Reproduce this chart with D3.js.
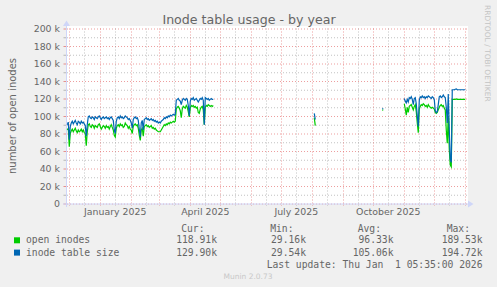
<!DOCTYPE html>
<html>
<head>
<meta charset="utf-8">
<script src="https://cdn.jsdelivr.net/npm/d3@7"></script>
<style>
body { margin: 0; background: #f0f0f0; }
svg { display: block; }
text { font-family: "DejaVu Sans", sans-serif; fill: #666; }
.mono { font-family: "DejaVu Sans Mono", monospace; white-space: pre; }
</style>
</head>
<body>
<div class="inode-chart"></div>
<script>
// munin year graph, one value per day, in thousands
const segmentStart = ["2024-11-29", "2025-08-03", "2025-10-10", "2025-11-01"];

const openInodes = [
  [84,86,65,80,83,85,82,84,86,83,81,84,82,83,85,82,84,81,80,66,82,
   90,91,88,87,90,89,86,89,88,87,90,91,88,85,87,89,88,86,89,87,88,85,88,90,87,84,78,76,
   86,89,90,88,91,89,90,87,88,92,90,89,86,88,85,84,80,88,90,91,89,90,86,78,72,84,86,77,88,
   89,90,88,89,87,88,89,86,87,85,86,84,83,82,82,82,84,86,88,90,89,91,90,92,91,93,92,93,94,93,94,
   108,110,111,109,106,98,108,111,110,109,112,110,105,99,109,112,111,112,110,111,109,110,104,103,
   108,110,111,107,90,110,112,111,113,112,111,112,111,112],
  [98, 89],
  [107, 106.5],
  [114,108,101,110,104,111,112,113,110,107,111,113,105,92,81,108,111,113,112,114,113,111,112,110,
   113,111,110,109,110,109,108,104,103,104,107,110,112,113,111,112,109,107,84,69,100,62,44,42,
   119,119,119,119,119.5,119,119,119,119,119,119,119,119,119]
];

const tableSize = [
  [90,93,73,88,92,94,91,93,95,92,90,94,93,91,94,92,93,91,89,77,90,
   99,100,98,97,99,98,96,99,98,97,99,100,98,96,98,99,97,98,99,97,98,96,98,99,97,95,84,80,
   94,98,99,97,100,98,99,97,98,100,99,98,96,97,95,92,86,96,98,99,97,98,95,85,76,92,95,84,96,
   97,98,96,97,95,96,97,95,96,94,95,93,94,92,93,92,94,95,96,98,97,99,98,100,99,101,100,101,102,101,102,
   118,119,120,118,117,113,118,120,119,118,120,119,112,100,117,120,119,121,118,119,120,118,116,118,
   120,119,121,118,90,121,120,119,120,118,119,120,119,119],
  [103, 96],
  [108.5, 108],
  [120,117,115,119,116,121,120,122,119,113,120,121,114,100,88,118,122,121,123,121,122,120,122,121,
   123,122,121,120,122,121,119,106,104,105,113,122,123,121,122,124,122,121,110,92,125,85,50,47,
   130,130,130,130.5,131,130,130,130,130,130,130,130,130,130]
];

const yTicks = [0, 20, 40, 60, 80, 100, 120, 140, 160, 180, 200];
const monthLabels = ["January 2025", "April 2025", "July 2025", "October 2025"];
const monthLabelDates = ["2025-01-16", "2025-04-16", "2025-07-16", "2025-10-16"];

const seriesNames = ["open inodes", "inode table size"];
const seriesColors = ["#00cc00", "#0066b3"];
const curValues = ["118.91k", "129.90k"];
const minValues = ["29.16k", "29.54k"];
const avgValues = ["96.33k", "105.06k"];
const maxValues = ["189.53k", "194.72k"];

const width = 497;
const height = 287;
const parse = d3.utcParse("%Y-%m-%d");

const svg = d3.select('.inode-chart')
    .append('svg')
    .attr('width', width)
    .attr('height', height);

svg.append('rect').attr('width', width).attr('height', height).attr('fill', '#f0f0f0');

const tStart = new Date(Date.UTC(2024, 10, 27, 5, 35));
const tEnd = new Date(Date.UTC(2026, 0, 1, 5, 35));
const x = d3.scaleUtc().domain([tStart, tEnd]).range([65.5, 465.5]);
const y = d3.scaleLinear().domain([0, 200]).range([203.5, 28.5]);

// canvas
svg.append('rect')
    .attr('x', 67).attr('y', 26)
    .attr('width', 401).attr('height', 178)
    .attr('fill', '#fff');

// horizontal grid every 10k, red on the labelled ones
const hGrid = d3.range(0, 201, 10);
svg.selectAll('.hgrid')
    .data(hGrid)
    .enter()
    .append('line')
    .attr('x1', 67).attr('x2', 468)
    .attr('y1', d => y(d) + 0.5).attr('y2', d => y(d) + 0.5)
    .attr('stroke', d => d % 20 === 0 ? 'rgba(222,79,79,0.55)' : 'rgba(143,143,143,0.55)')
    .attr('stroke-dasharray', '1,2');
svg.selectAll('.htick')
    .data(hGrid)
    .enter()
    .append('line')
    .attr('x1', 63.5).attr('x2', 66.5)
    .attr('y1', d => y(d) + 0.5).attr('y2', d => y(d) + 0.5)
    .attr('stroke', d => d % 20 === 0 ? 'rgba(222,79,79,0.6)' : 'rgba(143,143,143,0.6)');

// vertical grid: month starts red, mid-month grey
const monthStarts = d3.utcMonth.range(tStart, tEnd);
const midMonths = d3.utcMonth.range(d3.utcMonth.offset(tStart, -1), tEnd)
    .map(d => d3.utcDay.offset(d, 15))
    .filter(d => d > tStart && d < tEnd);

svg.selectAll('.vminor')
    .data(midMonths)
    .enter()
    .append('line')
    .attr('x1', d => Math.round(x(d)) + 0.5).attr('x2', d => Math.round(x(d)) + 0.5)
    .attr('y1', 28.5).attr('y2', 206)
    .attr('stroke', 'rgba(143,143,143,0.55)')
    .attr('stroke-dasharray', '1,2');
svg.selectAll('.vmajor')
    .data(monthStarts)
    .enter()
    .append('line')
    .attr('x1', d => Math.round(x(d)) + 0.5).attr('x2', d => Math.round(x(d)) + 0.5)
    .attr('y1', 28.5).attr('y2', 206)
    .attr('stroke', 'rgba(222,79,79,0.55)')
    .attr('stroke-dasharray', '1,2');

// axes
svg.append('line')
    .attr('x1', 63).attr('x2', 469)
    .attr('y1', 204).attr('y2', 204)
    .attr('stroke', '#cfd6f8');
svg.append('path')
    .attr('d', 'M468,200.5L473.5,204L468,207.5Z')
    .attr('fill', '#cfd6f8');
svg.append('line')
    .attr('x1', 66.5).attr('x2', 66.5)
    .attr('y1', 207).attr('y2', 25)
    .attr('stroke', '#cfd6f8');
svg.append('path')
    .attr('d', 'M63,26L70,26L66.5,20.5Z')
    .attr('fill', '#cfd6f8');

// series lines
const line = d3.line()
    .x(d => x(d.date))
    .y(d => y(d.value));

function points(values, s) {
    const start = parse(segmentStart[s]);
    return values.map((v, i) => ({date: d3.utcDay.offset(start, i), value: v}));
}

[openInodes, tableSize].forEach((series, k) => {
    svg.append('g')
        .selectAll('path')
        .data(series)
        .enter()
        .append('path')
        .attr('d', (vals, s) => line(points(vals, s)))
        .attr('fill', 'none')
        .attr('stroke', seriesColors[k])
        .attr('stroke-width', 1.2);
});

// y labels
svg.selectAll('.ylab')
    .data(yTicks)
    .enter()
    .append('text')
    .text(d => d === 0 ? '0' : d + ' k')
    .attr('x', 60)
    .attr('y', d => y(d) + 3.6)
    .attr('text-anchor', 'end')
    .attr('font-size', 9.4);

// x labels
svg.selectAll('.xlab')
    .data(monthLabels)
    .enter()
    .append('text')
    .text(d => d)
    .attr('x', (d, i) => x(parse(monthLabelDates[i])))
    .attr('y', 215.3)
    .attr('text-anchor', 'middle')
    .attr('font-size', 9.4);

// titles
svg.append('text')
    .text('Inode table usage - by year')
    .attr('x', 249).attr('y', 24)
    .attr('text-anchor', 'middle')
    .attr('font-size', 12.6);

svg.append('text')
    .text('number of open inodes')
    .attr('transform', 'translate(15.5,116) rotate(-90)')
    .attr('text-anchor', 'middle')
    .attr('font-size', 10);

svg.append('text')
    .text('RRDTOOL / TOBI OETIKER')
    .attr('transform', 'translate(485,5) rotate(90)')
    .attr('font-size', 7.5)
    .style('fill', '#c4c4c4');

// legend
const colEnds = [217, 306, 393.5, 482.5];
const headers = ['Cur:', 'Min:', 'Avg:', 'Max:'];
svg.selectAll('.head')
    .data(headers)
    .enter()
    .append('text')
    .attr('class', 'mono')
    .text(d => d)
    .attr('x', (d, i) => colEnds[i] - 12.5)
    .attr('y', 231.5)
    .attr('text-anchor', 'end')
    .attr('font-size', 9.7);

const rowY = [243.3, 255.6];
seriesNames.forEach((name, i) => {
    svg.append('rect')
        .attr('x', 14).attr('y', rowY[i] - 6)
        .attr('width', 6).attr('height', 6)
        .attr('fill', seriesColors[i]);
    svg.append('text')
        .attr('class', 'mono')
        .text(name)
        .attr('x', 26).attr('y', rowY[i])
        .attr('font-size', 9.7);
    [curValues, minValues, avgValues, maxValues].forEach((col, c) => {
        svg.append('text')
            .attr('class', 'mono')
            .text(col[i])
            .attr('x', colEnds[c]).attr('y', rowY[i])
            .attr('text-anchor', 'end')
            .attr('font-size', 9.7);
    });
});

svg.append('text')
    .attr('class', 'mono')
    .text('Last update: Thu Jan  1 05:35:00 2026')
    .attr('x', 482.5).attr('y', 267.5)
    .attr('text-anchor', 'end')
    .attr('font-size', 9.7);

svg.append('text')
    .text('Munin 2.0.73')
    .attr('x', 248).attr('y', 279.3)
    .attr('text-anchor', 'middle')
    .attr('font-size', 7.5)
    .style('fill', '#c8c8c8');
</script>
</body>
</html>
